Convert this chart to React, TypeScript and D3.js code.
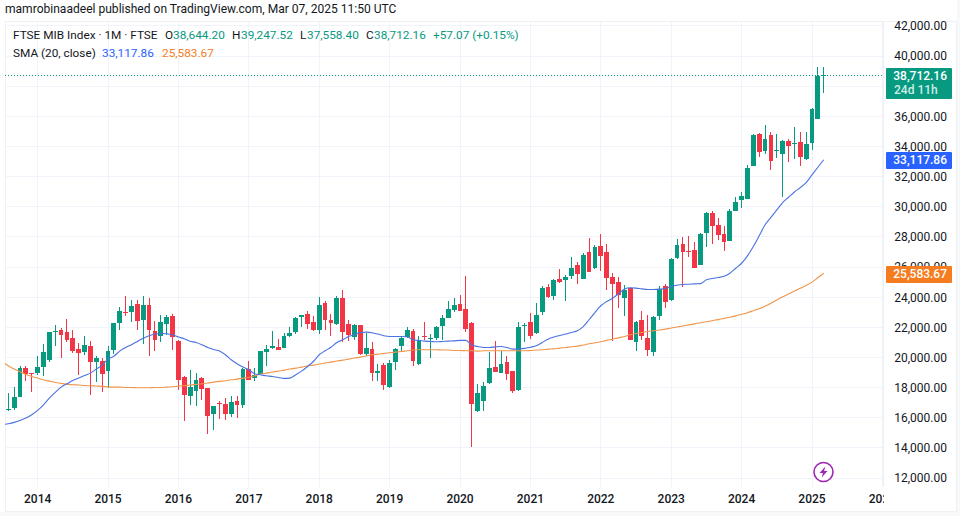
import React, { useEffect, useRef } from "react";
import * as d3 from "d3";

const WIDTH = 960;
const HEIGHT = 516;

// monthly candles, Aug 2013 .. Mar 2025
const opens = [
  16490, 16640, 17348, 19315, 18960, 18960, 19337, 19845, 21657, 21790, 21700, 21304, 20530, 20331, 20773, 19668, 19779,
  19072, 20508, 22298, 23005, 22983, 23558, 22497, 23492, 21724, 21392, 22232, 22762, 21105, 18674, 17458, 17746, 18630,
  17989, 16265, 16950, 16928, 16265, 17127, 16818, 19226, 18608, 18895, 20376, 20640, 20707, 20597, 21436, 21657, 22652,
  22895, 22365, 21790, 23624, 22497, 22188, 23956, 22232, 21348, 22166, 20199, 20552, 18939, 19514, 18033, 19668, 20729,
  21326, 21768, 19580, 21436, 21238, 21282, 22100, 22630, 23160, 23558, 23226, 22276, 16464, 17083, 18320, 19381, 18961,
  19713, 19116, 17856, 22120, 22365, 21613, 23028, 24663, 24110, 25193, 25149, 25414, 26144, 25215, 26983, 25923, 27403,
  27006, 25348, 25017, 23956, 24619, 20994, 22497, 21304, 20376, 22762, 24751, 23779, 26608, 27536, 27094, 27138, 26166,
  28287, 29569, 28773, 28199, 27735, 29746, 30475, 30541, 32707, 34829, 33724, 34763, 33724, 33503, 34365, 34166, 34299,
  33171, 34254, 35845, 38644.2,
];
const highs = [
  17635, 18033, 19447, 19447, 18960, 20110, 20884, 21700, 22166, 21923, 22541, 21834, 20950, 21436, 21060, 20110, 19956,
  20773, 22298, 23337, 24044, 23823, 23779, 24088, 23934, 22431, 22829, 22829, 22873, 21171, 18740, 19182, 18961, 18674,
  17989, 16795, 17083, 17326, 17414, 17414, 19300, 19779, 19293, 20442, 20840, 21768, 21215, 21613, 22033, 22652, 22829,
  23072, 22762, 24000, 23757, 22895, 24044, 24486, 22497, 22210, 22166, 21613, 21017, 19580, 19624, 19845, 20619, 21436,
  22011, 21878, 21436, 22320, 21547, 22100, 22785, 23735, 23934, 24155, 25414, 22320, 18254, 18342, 20376, 21105, 20442,
  20110, 19116, 22343, 22276, 22961, 23602, 24773, 24884, 25215, 25856, 25458, 26652, 26320, 26961, 27934, 27470, 28199,
  27536, 25591, 25370, 24818, 24641, 22409, 23094, 22829, 22718, 24751, 24884, 26630, 27867, 28022, 28066, 27668, 28243,
  29635, 29702, 29260, 28729, 29856, 30674, 30984, 32751, 34829, 34873, 35426, 34939, 34829, 34431, 34475, 35293, 34962,
  34962, 36575, 39249, 39247.52,
];
const lows = [
  16450, 16530, 17348, 18453, 17680, 18830, 18740, 19713, 20773, 19934, 21000, 20287, 18850, 20177, 17525, 18387, 17680,
  17945, 20200, 21834, 22718, 22320, 21834, 20906, 20110, 20442, 20994, 21503, 20464, 17812, 15757, 16862, 16751, 17194,
  14939, 15204, 15934, 15867, 16022, 15978, 16640, 18475, 18409, 18895, 19403, 20552, 20464, 20597, 21348, 21547, 21989,
  21900, 21768, 21570, 21834, 21436, 22166, 21017, 21060, 21127, 20177, 20066, 18409, 18409, 17856, 17967, 19182, 20331,
  21282, 19447, 19514, 21171, 19934, 21149, 21127, 22608, 22983, 23050, 21657, 14055, 16353, 16464, 18210, 19005, 18961,
  18519, 17613, 17745, 21039, 21215, 21569, 22785, 23934, 23823, 24928, 23757, 25215, 24884, 25215, 25658, 25879, 25768,
  24486, 21061, 23249, 22762, 21127, 20398, 21127, 20110, 20110, 22453, 23293, 23735, 26564, 24707, 26652, 25967, 26144,
  27359, 27536, 27801, 27094, 27713, 29724, 29923, 30519, 32707, 33326, 33503, 32464, 33216, 30674, 32995, 33149, 32729,
  33105, 33768, 35845, 37558.4,
];
const closes = [
  16597, 17392, 19315, 18917, 18917, 19359, 20376, 21657, 21724, 21503, 21149, 20442, 20309, 20840, 19668, 19978, 18917,
  20442, 22298, 23094, 22940, 23425, 22387, 23492, 21834, 21171, 22365, 22674, 21326, 18519, 17525, 18033, 18519, 17922,
  16088, 16795, 16884, 16265, 17061, 16818, 19230, 18475, 18850, 20442, 20575, 20729, 20464, 21436, 21635, 22630, 22785,
  22232, 21790, 23492, 22497, 22298, 23956, 21657, 21503, 22166, 20199, 20619, 18939, 19116, 18188, 19646, 20575, 21260,
  21834, 19735, 21171, 21370, 21282, 22033, 22608, 23226, 23492, 23094, 21900, 16928, 17657, 18121, 19315, 19005, 19580,
  18917, 17790, 22033, 22166, 21436, 22829, 24641, 24000, 25149, 24995, 25348, 25945, 25547, 26807, 25702, 27337, 26740,
  25282, 24884, 24155, 24486, 21171, 22365, 21436, 20508, 22652, 24552, 23646, 26542, 27470, 27028, 27028, 25967, 28199,
  29591, 28751, 28155, 27691, 29724, 30320, 30718, 32575, 34763, 33658, 34475, 33061, 33768, 34365, 34055, 34210, 33326,
  34166, 36486, 38644.2, 38712.16,
];

// both start one month before the first candle, the left edge cuts them
const smaFast = [
  15540, 15600, 15690, 15820, 15980, 16200, 16490, 16860, 17300, 17680, 18030, 18250, 18470, 18630, 18800, 18960, 19230,
  19490, 19890, 20090, 20420, 20660, 20840, 21060, 21280, 21440, 21550, 21590, 21570, 21500, 21350, 21240, 21080, 20990,
  20840, 20660, 20530, 20420, 20180, 19850, 19580, 19360, 19180, 18920, 18850, 18780, 18740, 18670, 18610, 18630, 18850,
  19090, 19400, 19730, 20180, 20440, 20680, 20990, 21170, 21390, 21500, 21660, 21680, 21640, 21550, 21440, 21390, 21390,
  21390, 21370, 21170, 21130, 21080, 21060, 21040, 21060, 21080, 21100, 21130, 21130, 20820, 20730, 20660, 20660, 20700,
  20730, 20660, 20550, 20570, 20600, 20680, 20770, 20990, 21210, 21350, 21460, 21550, 21660, 21770, 22050, 22500, 22980,
  23430, 23710, 23930, 24220, 24530, 24620, 24600, 24550, 24510, 24510, 24530, 24570, 24700, 24790, 24840, 24860, 24880,
  24900, 25150, 25240, 25300, 25390, 25590, 25920, 26250, 26740, 27360, 28070, 28800, 29300, 29790, 30280, 30630, 30980,
  31270, 31600, 32110, 32620, 33117.86,
];
const smaSlow = [
  19720, 19450, 19230, 19050, 18870, 18740, 18630, 18520, 18430, 18340, 18280, 18230, 18190, 18170, 18140, 18120, 18100,
  18080, 18050, 18030, 18030, 18010, 18010, 17990, 17990, 17990, 18010, 18010, 18030, 18050, 18100, 18120, 18170, 18210,
  18250, 18300, 18360, 18410, 18450, 18520, 18560, 18630, 18670, 18780, 18900, 18960, 19030, 19090, 19160, 19230, 19290,
  19360, 19430, 19490, 19560, 19630, 19690, 19760, 19820, 19890, 19960, 20020, 20090, 20180, 20220, 20270, 20310, 20350,
  20400, 20440, 20490, 20510, 20510, 20510, 20510, 20490, 20490, 20460, 20460, 20440, 20440, 20420, 20440, 20440, 20440,
  20440, 20440, 20440, 20440, 20440, 20460, 20490, 20510, 20550, 20570, 20620, 20660, 20710, 20750, 20820, 20910, 20970,
  21040, 21130, 21210, 21300, 21390, 21500, 21590, 21660, 21720, 21770, 21820, 21880, 21950, 22020, 22090, 22160, 22230,
  22300, 22370, 22440, 22510, 22590, 22670, 22760, 22860, 22970, 23100, 23230, 23390, 23590, 23810, 24020, 24210, 24410,
  24590, 24770, 25000, 25290, 25583.67,
];

const priceTicks = [
  12000, 14000, 16000, 18000, 20000, 22000, 24000, 26000, 28000, 30000, 32000, 34000, 36000, 38000, 40000, 42000,
];
const yearLabels = ["2014", "2015", "2016", "2017", "2018", "2019", "2020", "2021", "2022", "2023", "2024", "2025", "2026"];
const yearIndex = [5, 17, 29, 41, 53, 65, 77, 89, 101, 113, 125, 137, 149];

const UP = "#089981";
const DOWN = "#F23645";
const BLUE = "#2962FF";
const ORANGE = "#F57C1F";
const GRID = "#F0F3FA";
const TEXT = "#131722";
const FONT = "Roboto, sans-serif";

const App: React.FC = () => {
  const svgRef = useRef<SVGSVGElement | null>(null);

  useEffect(() => {
    if (!svgRef.current) return;
    const svg = d3.select(svgRef.current);
    svg.selectAll("*").remove();

    const plot = { left: 5, top: 21, right: 883, bottom: 487 };
    const x = d3.scaleLinear().domain([0, 149]).range([8.3, 882.4]);
    const y = d3.scaleLinear().domain([12000, 42000]).range([478, 25.9]);
    const fmt = d3.format(",.2f");

    svg.append("rect").attr("width", WIDTH).attr("height", HEIGHT).attr("fill", "#F7F8FA");
    svg.append("rect").attr("width", 957).attr("height", 21).attr("fill", "#fff");
    svg.append("rect").attr("width", 5).attr("height", 512).attr("fill", "#fff");
    svg
      .append("rect")
      .attr("x", plot.left + 0.5)
      .attr("y", plot.top + 0.5)
      .attr("width", 951)
      .attr("height", 490)
      .attr("fill", "#fff")
      .attr("stroke", "#F0F1F4");

    const defs = svg.append("defs");
    defs
      .append("clipPath")
      .attr("id", "plot-clip")
      .append("rect")
      .attr("x", plot.left)
      .attr("y", plot.top)
      .attr("width", plot.right - plot.left)
      .attr("height", plot.bottom - plot.top);
    defs
      .append("clipPath")
      .attr("id", "axis-clip")
      .append("rect")
      .attr("x", plot.right)
      .attr("y", plot.top)
      .attr("width", 74)
      .attr("height", 475);
    defs
      .append("clipPath")
      .attr("id", "time-clip")
      .append("rect")
      .attr("x", plot.left)
      .attr("y", plot.bottom)
      .attr("width", plot.right - plot.left + 1)
      .attr("height", 23);

    // grid
    const grid = svg.append("g").attr("clip-path", "url(#plot-clip)").attr("shape-rendering", "crispEdges");
    grid
      .selectAll(".h")
      .data(priceTicks)
      .enter()
      .append("line")
      .attr("x1", plot.left)
      .attr("x2", plot.right)
      .attr("y1", (d) => y(d))
      .attr("y2", (d) => y(d))
      .attr("stroke", GRID);
    grid
      .selectAll(".v")
      .data(yearIndex)
      .enter()
      .append("line")
      .attr("x1", (d) => x(d))
      .attr("x2", (d) => x(d))
      .attr("y1", plot.top)
      .attr("y2", plot.bottom)
      .attr("stroke", GRID);

    // axis divider
    svg
      .append("line")
      .attr("x1", plot.right + 0.5)
      .attr("x2", plot.right + 0.5)
      .attr("y1", plot.top)
      .attr("y2", plot.bottom)
      .attr("stroke", "#EEF0F3");

    const marks = svg.append("g").attr("clip-path", "url(#plot-clip)");

    // last price line
    marks
      .append("line")
      .attr("x1", plot.left)
      .attr("x2", plot.right)
      .attr("y1", Math.round(y(38712.16)) + 0.5)
      .attr("y2", Math.round(y(38712.16)) + 0.5)
      .attr("stroke", UP)
      .attr("stroke-dasharray", "1 2");

    // candles
    const candle = marks
      .selectAll(".candle")
      .data(d3.range(opens.length))
      .enter()
      .append("g")
      .attr("class", "candle")
      .attr("shape-rendering", "crispEdges");
    candle
      .append("line")
      .attr("x1", (i) => x(i))
      .attr("x2", (i) => x(i))
      .attr("y1", (i) => y(highs[i]))
      .attr("y2", (i) => y(lows[i]))
      .attr("stroke", (i) => (closes[i] >= opens[i] ? UP : DOWN))
      .attr("stroke-width", 1);
    candle
      .append("rect")
      .attr("x", (i) => x(i) - 2.4)
      .attr("width", 4.8)
      .attr("y", (i) => y(Math.max(opens[i], closes[i])))
      .attr("height", (i) => Math.max(1, Math.abs(y(opens[i]) - y(closes[i]))))
      .attr("fill", (i) => (closes[i] >= opens[i] ? UP : DOWN));

    // moving averages
    const line = d3
      .line<number>()
      .x((_, i) => x(i - 1))
      .y((d) => y(d))
      .curve(d3.curveMonotoneX);
    marks
      .append("path")
      .attr("d", line(smaSlow))
      .attr("fill", "none")
      .attr("stroke", "#F0954A")
      .attr("stroke-width", 1.1);
    marks
      .append("path")
      .attr("d", line(smaFast))
      .attr("fill", "none")
      .attr("stroke", "#4A72E0")
      .attr("stroke-width", 1.1);

    // price axis
    svg
      .append("g")
      .attr("clip-path", "url(#axis-clip)")
      .selectAll("text")
      .data(priceTicks)
      .enter()
      .append("text")
      .attr("x", 947)
      .attr("y", (d) => y(d) + 4.4)
      .attr("text-anchor", "end")
      .attr("font-family", FONT)
      .attr("font-size", 12)
      .attr("fill", TEXT)
      .text((d) => fmt(d));

    // time axis
    svg
      .append("g")
      .attr("clip-path", "url(#time-clip)")
      .selectAll("text")
      .data(yearLabels)
      .enter()
      .append("text")
      .attr("x", (_, i) => x(yearIndex[i]))
      .attr("y", 503)
      .attr("text-anchor", "middle")
      .attr("font-family", FONT)
      .attr("font-size", 12)
      .attr("font-weight", 500)
      .attr("fill", TEXT)
      .text((d) => d);

    // last value badges
    const badge = (top: number, h: number, fill: string, value: number) => {
      svg.append("rect").attr("x", 886).attr("y", top).attr("width", 66).attr("height", h).attr("rx", 1).attr("fill", fill);
      svg
        .append("text")
        .attr("x", 947)
        .attr("y", top + 12.4)
        .attr("text-anchor", "end")
        .attr("font-family", FONT)
        .attr("font-size", 12)
        .attr("font-weight", 500)
        .attr("fill", "#fff")
        .text(fmt(value));
    };
    badge(68, 31, UP, 38712.16);
    svg
      .append("text")
      .attr("x", 894)
      .attr("y", 94)
      .attr("font-family", FONT)
      .attr("font-size", 12)
      .attr("font-weight", 500)
      .attr("fill", "#CDEDE6")
      .text("24d 11h");
    badge(152, 17, BLUE, 33117.86);
    badge(266, 17, ORANGE, 25583.67);

    // header
    svg
      .append("text")
      .attr("x", 5)
      .attr("y", 13)
      .attr("font-family", FONT)
      .attr("font-size", 12.05)
      .attr("fill", TEXT)
      .text("mamrobinaadeel published on TradingView.com, Mar 07, 2025 11:50 UTC");

    const legend = (xPos: number, yPos: number, s: string, fill: string) => {
      svg
        .append("text")
        .attr("x", xPos)
        .attr("y", yPos)
        .attr("font-family", FONT)
        .attr("font-size", 11.8)
        .attr("fill", fill)
        .text(s);
    };
    legend(13, 39, "FTSE MIB Index · 1M · FTSE", TEXT);
    legend(165, 39, "O", TEXT);
    legend(173, 39, "38,644.20", UP);
    legend(232, 39, "H", TEXT);
    legend(241, 39, "39,247.52", UP);
    legend(300, 39, "L", TEXT);
    legend(307, 39, "37,558.40", UP);
    legend(366, 39, "C", TEXT);
    legend(374, 39, "38,712.16", UP);
    legend(433, 39, "+57.07 (+0.15%)", UP);
    legend(13, 57, "SMA (20, close)", TEXT);
    legend(102, 57, "33,117.86", BLUE);
    legend(162, 57, "25,583.67", ORANGE);

    // lightning badge
    const icon = svg.append("g").attr("transform", "translate(823.5,472)");
    icon.append("circle").attr("r", 9.5).attr("fill", "#fff").attr("stroke", "#9C27B0").attr("stroke-width", 1.6);
    icon.append("path").attr("d", "M1.8,-5.5 L-4,1 L-0.6,1 L-1.8,5.5 L4,-1 L0.6,-1 Z").attr("fill", "#9C27B0");
  }, []);

  return (
    <svg
      ref={svgRef}
      width={WIDTH}
      height={HEIGHT}
      style={{ position: "absolute", left: 0, top: 0, display: "block" }}
    />
  );
};

export default App;
